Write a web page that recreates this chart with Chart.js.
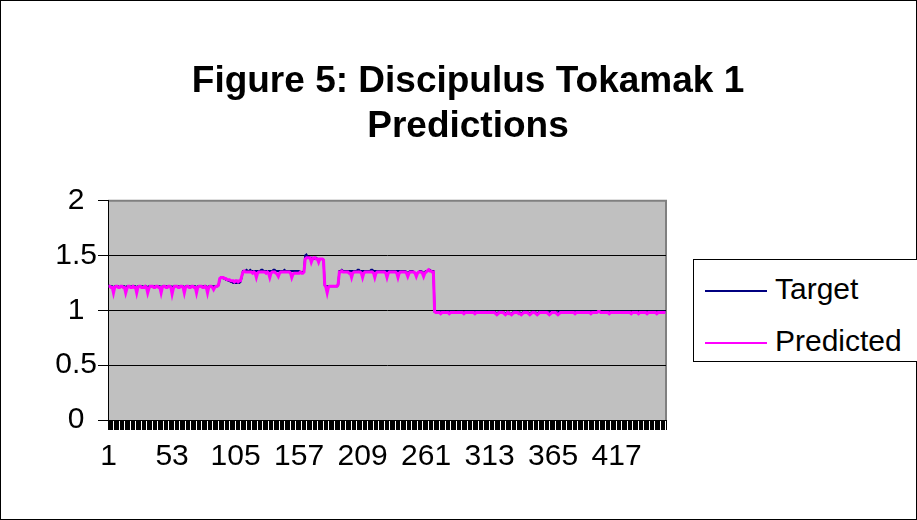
<!DOCTYPE html>
<html>
<head>
<meta charset="utf-8">
<script src="https://cdn.jsdelivr.net/npm/chart.js@4"></script>
<style>
  html, body { margin: 0; padding: 0; background: #fff; overflow: hidden; }
  #wrap { position: relative; width: 917px; height: 520px; }
  #legend {
    position: absolute; left: 693px; top: 259px; width: 250px; height: 103px;
    border: 1px solid #000; background: #fff; box-sizing: border-box;
    font-family: 'Liberation Sans', Arial, sans-serif; font-size: 30px; color: #000;
  }
  #legend .item { position: absolute; left: 11px; height: 36px; line-height: 36px; white-space: nowrap; }
  #legend .swatch { display: inline-block; width: 62px; height: 2px; vertical-align: middle; margin-right: 8px; }
</style>
</head>
<body>
<div id="wrap">
  <canvas id="chart" width="917" height="520"></canvas>
  <div id="legend"></div>
</div>
<script>
// x labels shown under the axis
const tickLabels = ['1', '53', '105', '157', '209', '261', '313', '365', '417'];

const target = [
  1.23,1.22,1.22,1.22,1.21,1.22,1.22,1.22,1.22,1.21,
  1.22,1.22,1.22,1.22,1.21,1.22,1.22,1.22,1.22,1.22,
  1.22,1.22,1.22,1.21,1.22,1.22,1.22,1.22,1.22,1.21,
  1.22,1.22,1.21,1.22,1.22,1.22,1.22,1.22,1.22,1.22,
  1.22,1.22,1.22,1.21,1.22,1.22,1.22,1.22,1.22,1.22,
  1.22,1.22,1.21,1.22,1.22,1.22,1.22,1.22,1.22,1.22,
  1.22,1.22,1.21,1.22,1.22,1.22,1.22,1.22,1.22,1.22,
  1.22,1.22,1.21,1.22,1.22,1.22,1.22,1.22,1.22,1.22,
  1.22,1.21,1.22,1.22,1.22,1.22,1.22,1.22,1.22,1.22,
  1.23,
  1.28,1.30,1.30,1.29,1.29,1.28,1.28,1.27,1.27,
  1.26,1.26,1.25,1.25,1.25,1.25,1.25,1.25,1.26,1.30,
  1.36,1.36,1.36,1.37,1.36,1.36,1.37,1.36,1.36,1.36,
  1.36,1.36,1.36,1.36,1.36,1.37,1.37,1.36,1.36,1.36,
  1.36,1.36,1.36,1.36,1.36,1.37,1.37,1.36,1.36,1.36,
  1.36,1.36,1.36,1.36,1.37,1.36,1.36,1.36,1.36,1.36,
  1.36,1.36,1.36,1.36,1.36,1.36,1.36,1.35,1.35,1.35,1.36,
  1.50,1.51,1.49,1.49,1.48,1.48,1.48,1.47,1.48,1.48,1.47,1.47,1.47,1.47,1.47,1.46,
  1.23,1.22,1.22,1.22,1.22,1.22,1.22,1.22,1.22,1.22,1.22,1.23,
  1.36,1.36,1.37,1.36,1.36,1.36,1.36,1.36,1.36,1.36,
  1.36,1.36,1.36,1.36,1.36,1.37,1.37,1.36,1.36,1.36,
  1.36,1.36,1.36,1.36,1.36,1.36,1.37,1.37,1.36,1.36,
  1.36,1.36,1.36,1.36,1.36,1.36,1.36,1.36,1.36,1.36,
  1.36,1.36,1.36,1.36,1.36,1.36,1.36,1.36,1.36,1.36,
  1.36,1.36,1.36,1.36,1.36,1.35,1.34,1.35,1.36,1.36,
  1.36,1.35,1.34,1.32,1.34,1.35,1.36,1.36,1.35,1.34,
  1.35,1.36,1.36,1.37,1.37,1.36,1.36,1.36,
  0.99,0.99,0.99,0.99,0.99,0.99,0.99,0.99,0.99,0.98,
  0.99,0.99,0.99,0.99,0.99,0.99,0.99,0.98,0.98,0.99,
  0.99,0.99,0.99,0.99,0.98,0.99,0.99,0.99,0.99,0.99,
  0.99,0.99,0.99,0.99,0.99,0.99,0.99,0.99,0.99,0.99,
  0.99,0.99,0.99,0.98,0.99,0.99,0.99,0.99,0.99,0.99,
  0.98,0.97,0.98,0.99,0.99,0.99,0.98,0.98,0.97,0.98,
  0.98,0.98,0.97,0.97,0.98,0.99,0.99,0.99,0.98,0.98,
  0.98,0.97,0.98,0.99,0.99,0.99,0.98,0.98,0.97,0.98,
  0.99,0.99,0.99,0.98,0.97,0.98,0.99,0.99,0.99,0.99,
  0.99,0.99,0.99,0.98,0.98,0.99,0.99,0.99,0.99,0.99,
  0.98,0.98,0.99,0.99,0.99,0.99,0.99,0.99,0.99,0.99,
  0.99,0.99,0.99,0.99,0.99,0.99,0.99,0.99,0.99,0.99,
  0.99,0.99,0.99,0.99,0.99,0.99,0.99,0.99,0.99,0.99,
  0.99,0.99,0.99,0.99,0.99,0.99,0.99,0.99,0.99,0.99,
  0.99,0.99,0.99,0.99,0.99,0.99,0.99,0.99,0.99,0.99,
  0.99,0.99,0.99,0.99,0.99,0.99,0.99,0.99,0.99,0.99,
  0.99,0.98,0.99,0.99,0.99,0.99,0.99,0.98,0.99,0.99,
  0.99,0.99,0.99,0.99,0.98,0.99,0.99,0.99,0.99,0.99,
  0.99,0.99,0.98,0.99,0.99,0.99,0.99,0.99,0.99,0.99
];

const predicted = [
  1.22,1.22,1.21,1.21,1.16,1.21,1.22,1.22,1.21,1.21,
  1.22,1.22,1.21,1.21,1.16,1.20,1.22,1.22,1.21,1.21,
  1.22,1.21,1.21,1.16,1.21,1.22,1.22,1.21,1.21,1.21,
  1.22,1.21,1.16,1.20,1.22,1.22,1.22,1.21,1.21,1.22,
  1.22,1.21,1.21,1.16,1.21,1.22,1.22,1.21,1.21,1.22,
  1.22,1.21,1.15,1.20,1.22,1.22,1.22,1.21,1.21,1.22,
  1.22,1.21,1.16,1.21,1.22,1.22,1.21,1.21,1.22,1.22,
  1.21,1.21,1.16,1.21,1.22,1.22,1.22,1.21,1.21,1.22,
  1.21,1.16,1.21,1.22,1.22,1.21,1.19,1.21,1.22,1.22,
  1.23,
  1.29,1.30,1.30,1.30,1.29,1.29,1.28,1.28,1.28,
  1.27,1.27,1.27,1.26,1.27,1.27,1.26,1.27,1.27,1.31,
  1.35,1.36,1.35,1.35,1.35,1.35,1.35,1.35,1.34,1.35,
  1.34,1.30,1.34,1.35,1.35,1.35,1.35,1.35,1.35,1.34,
  1.35,1.34,1.30,1.34,1.35,1.35,1.35,1.34,1.33,1.31,
  1.34,1.35,1.35,1.35,1.35,1.35,1.35,1.35,1.35,1.34,
  1.30,1.33,1.34,1.34,1.34,1.34,1.34,1.35,1.34,1.34,1.35,
  1.47,1.48,1.48,1.48,1.48,1.44,1.47,1.48,1.48,1.47,1.47,1.44,1.47,1.47,1.47,1.46,
  1.23,1.21,1.16,1.21,1.22,1.22,1.22,1.22,1.22,1.22,1.22,1.24,
  1.35,1.35,1.36,1.35,1.35,1.35,1.35,1.35,1.34,1.34,
  1.30,1.34,1.35,1.35,1.35,1.35,1.35,1.35,1.34,1.30,
  1.34,1.35,1.35,1.35,1.35,1.35,1.35,1.35,1.34,1.30,
  1.34,1.35,1.35,1.35,1.35,1.35,1.35,1.35,1.34,1.30,
  1.34,1.35,1.35,1.35,1.35,1.35,1.35,1.34,1.30,1.34,
  1.35,1.35,1.35,1.35,1.35,1.34,1.31,1.34,1.35,1.35,
  1.35,1.35,1.34,1.31,1.34,1.35,1.35,1.35,1.34,1.31,
  1.34,1.35,1.36,1.37,1.36,1.36,1.35,1.35,
  0.99,0.98,0.98,0.98,0.98,0.97,0.98,0.98,0.98,0.98,
  0.98,0.98,0.97,0.98,0.98,0.98,0.98,0.98,0.98,0.98,
  0.98,0.98,0.98,0.98,0.97,0.98,0.98,0.98,0.98,0.98,
  0.98,0.98,0.98,0.97,0.98,0.98,0.98,0.98,0.98,0.98,
  0.98,0.98,0.98,0.98,0.98,0.98,0.98,0.98,0.98,0.98,
  0.97,0.96,0.97,0.98,0.98,0.98,0.98,0.97,0.96,0.97,
  0.98,0.97,0.97,0.96,0.97,0.98,0.98,0.98,0.98,0.97,
  0.97,0.96,0.97,0.98,0.98,0.98,0.98,0.97,0.96,0.97,
  0.98,0.98,0.98,0.97,0.96,0.97,0.98,0.98,0.98,0.98,
  0.98,0.98,0.98,0.97,0.96,0.97,0.98,0.98,0.98,0.98,
  0.97,0.96,0.97,0.98,0.98,0.98,0.98,0.98,0.98,0.98,
  0.98,0.98,0.98,0.98,0.98,0.97,0.98,0.98,0.98,0.98,
  0.98,0.98,0.98,0.98,0.98,0.98,0.98,0.98,0.97,0.98,
  0.98,0.98,0.98,0.98,0.99,0.99,0.98,0.98,0.98,0.98,
  0.98,0.98,0.98,0.97,0.98,0.98,0.98,0.98,0.98,0.98,
  0.98,0.98,0.98,0.98,0.98,0.98,0.98,0.98,0.98,0.98,
  0.98,0.97,0.98,0.98,0.98,0.98,0.98,0.97,0.98,0.98,
  0.98,0.98,0.98,0.98,0.97,0.98,0.98,0.98,0.98,0.98,
  0.98,0.98,0.97,0.98,0.98,0.98,0.98,0.98,0.98,0.98
];

// one category per sample, numbered from 1
const categories = target.map((v, i) => String(i + 1));

const FONT = "'Liberation Sans', Arial, sans-serif";

const plotBackground = {
  id: 'plotBackground',
  beforeDraw(chart) {
    const { ctx, chartArea: a, width, height } = chart;
    ctx.save();
    ctx.fillStyle = '#fff';
    ctx.fillRect(0, 0, width, height);
    ctx.fillStyle = '#c0c0c0';
    ctx.fillRect(a.left, a.top, a.right - a.left, a.bottom - a.top);
    ctx.strokeStyle = '#808080';
    ctx.lineWidth = 2;
    ctx.beginPath();
    ctx.moveTo(a.left, a.top);
    ctx.lineTo(a.right, a.top);
    ctx.lineTo(a.right, a.bottom);
    ctx.stroke();
    ctx.restore();
  },
  afterDraw(chart) {
    const { ctx, width, height } = chart;
    ctx.save();
    ctx.strokeStyle = '#000';
    ctx.lineWidth = 1;
    ctx.strokeRect(0.5, 0.5, width - 1, height - 1);
    ctx.restore();
  }
};

const chart = new Chart(document.getElementById('chart'), {
  type: 'line',
  data: {
    labels: categories,
    datasets: [
      { label: 'Target', data: target, borderColor: '#000080', borderWidth: 2, pointRadius: 0, order: 2 },
      { label: 'Predicted', data: predicted, borderColor: '#ff00ff', borderWidth: 3, pointRadius: 0, order: 1 }
    ]
  },
  options: {
    responsive: false,
    animation: false,
    layout: { padding: { left: 19, right: 0, top: 0, bottom: 0 } },
    plugins: {
      legend: { display: false },
      tooltip: { enabled: false },
      title: {
        display: true,
        text: ['Figure 5: Discipulus Tokamak 1', 'Predictions'],
        color: '#000',
        font: { family: FONT, size: 37, weight: 'bold' },
        padding: { top: 60, bottom: 52 }
      }
    },
    scales: {
      x: {
        offset: true,
        grid: { offset: true, drawOnChartArea: false, drawTicks: true, tickLength: 10, color: '#000' },
        border: { color: '#000', width: 1 },
        ticks: {
          autoSkip: false, maxRotation: 0, minRotation: 0, padding: 9,
          color: '#000', font: { family: FONT, size: 30 },
          callback(value) {
            const lab = this.getLabelForValue(value);
            return tickLabels.includes(lab) ? lab : '';
          }
        },
        afterFit(scale) { scale.height = 100; }
      },
      y: {
        min: 0, max: 2,
        grid: {
          color: (c) => (c.tick && c.tick.value === 2 ? '#808080' : '#000'),
          tickColor: '#000', tickLength: 10
        },
        border: { color: '#000', width: 1 },
        ticks: {
          stepSize: 0.5, padding: 1, crossAlign: 'center',
          color: '#000', font: { family: FONT, size: 30 },
          callback: (v) => String(v)
        },
        afterFit(scale) { scale.width = 89; }
      },
      // empty space on the right where the legend sits
      yRight: {
        position: 'right', min: 0, max: 2,
        grid: { display: false },
        border: { display: false },
        ticks: { display: false },
        afterFit(scale) { scale.width = 251; }
      }
    }
  },
  plugins: [plotBackground]
});

// legend box on the right, built from the datasets
const legendEl = document.getElementById('legend');
chart.data.datasets.forEach((ds, i) => {
  const item = document.createElement('div');
  item.className = 'item';
  item.style.top = (11 + i * 52) + 'px';
  const sw = document.createElement('span');
  sw.className = 'swatch';
  sw.style.background = ds.borderColor;
  item.appendChild(sw);
  item.appendChild(document.createTextNode(ds.label));
  legendEl.appendChild(item);
});
</script>
</body>
</html>
